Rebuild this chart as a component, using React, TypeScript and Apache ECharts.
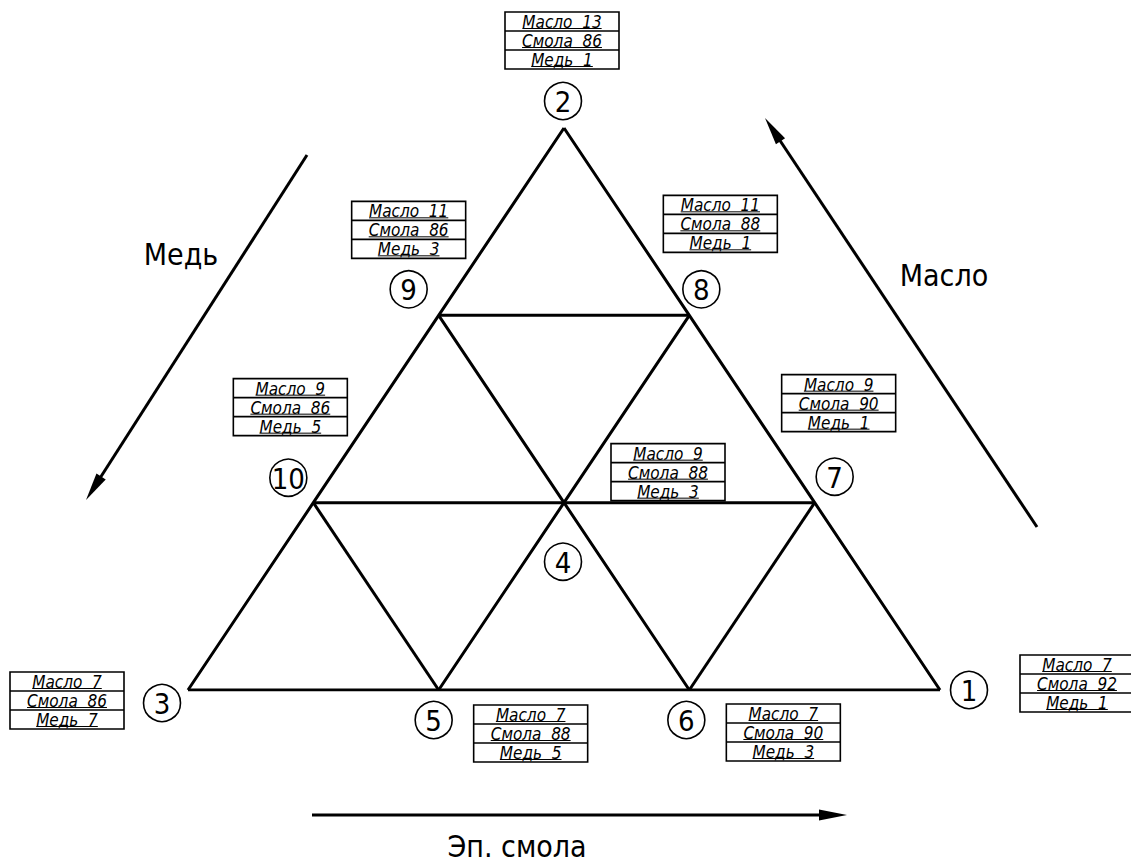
import React, { useEffect, useRef } from "react";
import * as echarts from "echarts";

// ---------- data ----------
const pointIds = [1, 2, 3, 4, 5, 6, 7, 8, 9, 10];
const oil = [7, 13, 7, 9, 7, 7, 9, 11, 11, 9];
const resin = [92, 86, 86, 88, 88, 90, 90, 88, 86, 86];
const copper = [1, 1, 7, 3, 5, 3, 1, 1, 3, 5];
const rowNames = ["Масло", "Смола", "Медь"];
const axisTitleCopper = "Медь";
const axisTitleOil = "Масло";
const axisTitleResin = "Эп. смола";

// ---------- layout (pixels, relative to each vertex) ----------
const circleOffset: Record<number, [number, number]> = {
  1: [29, 0], 2: [-1, -27], 3: [-26, 13], 4: [-1, 59], 5: [-5, 30],
  6: [-3, 30], 7: [20, -26], 8: [12, -26], 9: [-30, -26], 10: [-25, -25],
};
const boxOffset: Record<number, [number, number]> = {
  1: [80, -35], 2: [-59, -116], 3: [-178, -18], 4: [47, -59], 5: [35, 15],
  6: [37, 14], 7: [-33, -128], 8: [-26, -120], 9: [-87, -114], 10: [-80, -124],
};
const BOX_W = 114;
const ROW_H = 19;
const CAD_FONT = '"DejaVu Sans Condensed", "DejaVu Sans", sans-serif';
const BOX_FONT = `italic 17px ${CAD_FONT}`;

const oilMin = Math.min(...oil);
const xOf = (i: number) => resin[i] + (oil[i] - oilMin) / 2;
const yOf = (i: number) => oil[i];

let measureCtx: CanvasRenderingContext2D | null = null;
function textWidth(t: string, font: string) {
  if (!measureCtx) measureCtx = document.createElement("canvas").getContext("2d");
  if (!measureCtx) return t.length * 8;
  measureCtx.font = font;
  return measureCtx.measureText(t).width;
}

function arrow(x1: number, y1: number, x2: number, y2: number) {
  const dx = x2 - x1, dy = y2 - y1;
  const L = Math.hypot(dx, dy);
  const ux = dx / L, uy = dy / L;
  const hl = 28, hw = 5.5;
  const bx = x2 - ux * hl, by = y2 - uy * hl;
  return [
    { type: "line", shape: { x1, y1, x2: bx + ux * 4, y2: by + uy * 4 }, style: { stroke: "#000", lineWidth: 3 } },
    {
      type: "polygon",
      shape: { points: [[x2, y2], [bx - uy * hw, by + ux * hw], [bx + uy * hw, by - ux * hw]] },
      style: { fill: "#000" },
    },
  ];
}

function gridLineSeries() {
  const series: any[] = [];
  [oil, resin, copper].forEach((comp) => {
    const levels = Array.from(new Set(comp));
    levels.forEach((lv) => {
      const idx = pointIds.map((_, i) => i).filter((i) => comp[i] === lv);
      if (idx.length < 2) return;
      idx.sort((a, b) => yOf(a) - yOf(b) || xOf(a) - xOf(b));
      series.push({
        type: "line",
        data: idx.map((i) => [xOf(i), yOf(i)]),
        symbol: "none",
        silent: true,
        z: 1,
        lineStyle: { color: "#000", width: 3 },
      });
    });
  });
  return series;
}

export default function App() {
  const ref = useRef<HTMLDivElement>(null);
  useEffect(() => {
    document.body.style.margin = "0";
    const chart = echarts.init(ref.current!, null, { renderer: "svg" });
    const titleText = (text: string, x: number, y: number) => ({
      type: "text",
      x,
      y,
      style: {
        text,
        fill: "#000",
        fontSize: 30,
        fontFamily: CAD_FONT,
        align: "center",
        verticalAlign: "middle",
        textAlign: "center",
        textVerticalAlign: "middle",
      },
    });
    chart.setOption({
      animation: false,
      backgroundColor: "#fff",
      grid: { left: 188, right: 191, top: 128, bottom: 173 },
      xAxis: { type: "value", min: 86, max: 92, show: false },
      yAxis: { type: "value", min: 7, max: 13, show: false },
      series: [
        ...gridLineSeries(),
        {
          type: "custom",
          z: 5,
          silent: true,
          data: pointIds.map((_, i) => [xOf(i), yOf(i), i]),
          renderItem: (_p: any, api: any) => {
            const i = api.value(2);
            const id = pointIds[i];
            const [px, py] = api.coord([api.value(0), api.value(1)]);
            const [cdx, cdy] = circleOffset[id];
            const [bdx, bdy] = boxOffset[id];
            const cx = px + cdx, cy = py + cdy;
            const bx = px + bdx, by = py + bdy;
            const rows = [
              `${rowNames[0]}  ${oil[i]}`,
              `${rowNames[1]}  ${resin[i]}`,
              `${rowNames[2]}  ${copper[i]}`,
            ];
            const children: any[] = [
              { type: "circle", shape: { cx, cy, r: 18.5 }, style: { fill: "#fff", stroke: "#000", lineWidth: 1.6 } },
              {
                type: "text",
                style: {
                  text: String(id), x: cx, y: cy + 1, fill: "#000",
                  font: `29px ${CAD_FONT}`, align: "center", verticalAlign: "middle",
                  textAlign: "center", textVerticalAlign: "middle",
                },
              },
              {
                type: "rect",
                shape: { x: bx, y: by, width: BOX_W, height: ROW_H * 3 },
                style: { fill: "#fff", stroke: "#000", lineWidth: 1.6 },
              },
              { type: "line", shape: { x1: bx, y1: by + ROW_H, x2: bx + BOX_W, y2: by + ROW_H }, style: { stroke: "#000", lineWidth: 1.6 } },
              { type: "line", shape: { x1: bx, y1: by + 2 * ROW_H, x2: bx + BOX_W, y2: by + 2 * ROW_H }, style: { stroke: "#000", lineWidth: 1.6 } },
            ];
            rows.forEach((t, r) => {
              const tx = bx + BOX_W / 2;
              const ty = by + ROW_H * r + ROW_H / 2 + 0.5;
              const w = textWidth(t, BOX_FONT);
              children.push({
                type: "text",
                style: {
                  text: t, x: tx, y: ty, fill: "#000", font: BOX_FONT,
                  align: "center", verticalAlign: "middle", textAlign: "center", textVerticalAlign: "middle",
                },
              });
              children.push({
                type: "line",
                shape: { x1: tx - w / 2, y1: by + ROW_H * (r + 1) - 2.5, x2: tx + w / 2, y2: by + ROW_H * (r + 1) - 2.5 },
                style: { stroke: "#000", lineWidth: 1 },
              });
            });
            return { type: "group", children };
          },
        },
      ],
      graphic: [
        ...arrow(307, 155, 86, 500),
        ...arrow(1037, 527, 765, 118),
        ...arrow(312, 815, 847, 815),
        titleText(axisTitleCopper, 181, 254),
        titleText(axisTitleOil, 944, 275),
        titleText(axisTitleResin, 517, 846),
      ],
    });
    return () => chart.dispose();
  }, []);
  return <div ref={ref} style={{ position: "absolute", left: 0, top: 0, width: 1131, height: 863 }} />;
}
